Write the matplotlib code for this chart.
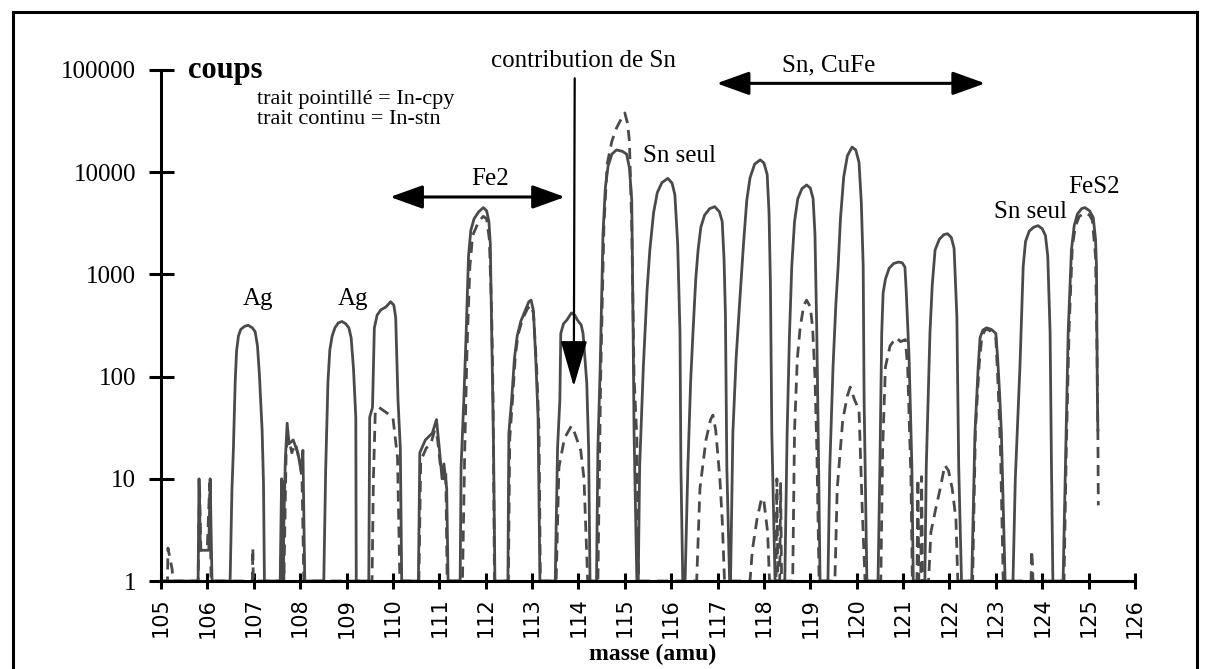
import matplotlib
matplotlib.use("Agg")
import matplotlib.pyplot as plt
from matplotlib import font_manager
from matplotlib.lines import Line2D

# trait continu = In-stn : (masse, coups), peak by peak
stn_peaks = [
    [(105.0, 1), (105.8, 1)],
    [(105.82, 10), (105.85, 2), (106.03, 2), (106.06, 10), (106.1, 1)],
    [(106.49, 1), (106.53, 8), (106.56, 19), (106.6, 90), (106.63, 180), (106.67, 250),
     (106.72, 290), (106.8, 310), (106.88, 318), (106.97, 300), (107.03, 275), (107.08, 200),
     (107.12, 108), (107.18, 30), (107.21, 9), (107.23, 1)],
    [(107.57, 1), (107.6, 10), (107.62, 1), (107.68, 15), (107.72, 35), (107.76, 22),
     (107.85, 24), (107.95, 18), (108.02, 12), (108.06, 19), (108.1, 1)],
    [(108.51, 1), (108.55, 12), (108.6, 90), (108.64, 182), (108.69, 250), (108.75, 300),
     (108.82, 335), (108.9, 346), (108.98, 330), (109.05, 300), (109.1, 240), (109.15, 120),
     (109.2, 40), (109.21, 1)],
    [(109.48, 1), (109.5, 40), (109.56, 50), (109.6, 300), (109.66, 400), (109.74, 450),
     (109.85, 480), (109.95, 540), (110.02, 500), (110.06, 380), (110.11, 59), (110.16, 20),
     (110.19, 1)],
    [(110.55, 1), (110.58, 18), (110.7, 24), (110.85, 28), (110.94, 38), (111.0, 20),
     (111.06, 10), (111.1, 14), (111.16, 8), (111.19, 1)],
    [(111.45, 1), (111.47, 13), (111.53, 60), (111.58, 270), (111.63, 1500), (111.68, 2700),
     (111.75, 3500), (111.85, 4100), (111.95, 4500), (112.02, 4200), (112.07, 3300),
     (112.1, 2000), (112.13, 270), (112.17, 20), (112.2, 1)],
    [(112.48, 1), (112.5, 28), (112.56, 59), (112.62, 150), (112.68, 250), (112.76, 350),
     (112.86, 450), (112.93, 540), (112.98, 560), (113.03, 440), (113.08, 150), (113.13, 40),
     (113.17, 1)],
    [(113.5, 1), (113.55, 20), (113.6, 59), (113.62, 265), (113.68, 330), (113.75, 357),
     (113.85, 420), (113.92, 400), (113.98, 357), (114.06, 320), (114.1, 265), (114.18, 87),
     (114.22, 20), (114.25, 1)],
    [(114.39, 1), (114.42, 20), (114.47, 125), (114.53, 2500), (114.58, 7000), (114.64, 11500),
     (114.72, 15000), (114.82, 16500), (114.95, 16000), (115.04, 15000), (115.1, 11000),
     (115.15, 5300), (115.18, 270), (115.2, 28), (115.26, 1)],
    [(115.29, 1), (115.32, 13), (115.4, 125), (115.48, 700), (115.54, 1730), (115.62, 4000),
     (115.7, 6300), (115.8, 7900), (115.93, 8700), (116.02, 7800), (116.08, 6000),
     (116.14, 2000), (116.19, 270), (116.21, 13), (116.25, 1)],
    [(116.3, 1), (116.36, 13), (116.42, 90), (116.47, 270), (116.53, 900), (116.58, 1730),
     (116.64, 2900), (116.72, 3800), (116.83, 4400), (116.94, 4600), (117.04, 4100),
     (117.1, 3300), (117.14, 1400), (117.17, 400), (117.2, 13), (117.26, 1)],
    [(117.28, 1), (117.33, 28), (117.4, 150), (117.48, 560), (117.56, 2000), (117.63, 5300),
     (117.7, 8800), (117.8, 12000), (117.92, 13200), (118.0, 12300), (118.07, 9500),
     (118.11, 4000), (118.14, 800), (118.17, 28), (118.24, 1)],
    [(118.45, 1), (118.5, 28), (118.55, 250), (118.6, 1200), (118.66, 3300), (118.73, 5500),
     (118.82, 6900), (118.92, 7500), (119.0, 7000), (119.06, 5500), (119.1, 2500),
     (119.14, 270), (119.17, 28), (119.21, 1)],
    [(119.38, 1), (119.42, 13), (119.49, 125), (119.55, 500), (119.6, 1200), (119.65, 3500),
     (119.72, 9000), (119.8, 14500), (119.9, 17600), (119.98, 16500), (120.05, 12500),
     (120.1, 5000), (120.14, 1200), (120.16, 59), (120.22, 1)],
    [(120.46, 1), (120.5, 13), (120.54, 270), (120.57, 660), (120.62, 900), (120.7, 1150),
     (120.8, 1280), (120.9, 1320), (120.98, 1300), (121.04, 1180), (121.07, 660),
     (121.13, 150), (121.19, 13), (121.22, 1)],
    [(121.47, 1), (121.5, 13), (121.58, 270), (121.63, 800), (121.69, 1730), (121.78, 2200),
     (121.88, 2450), (121.96, 2500), (122.04, 2300), (122.1, 1800), (122.16, 385),
     (122.2, 13), (122.26, 1)],
    [(122.48, 1), (122.55, 28), (122.62, 125), (122.66, 240), (122.72, 285), (122.8, 300),
     (122.9, 290), (123.0, 265), (123.04, 150), (123.08, 70), (123.12, 28), (123.2, 1)],
    [(123.37, 1), (123.42, 10), (123.52, 125), (123.59, 1200), (123.64, 2100), (123.72, 2650),
     (123.82, 2900), (123.91, 3000), (124.0, 2800), (124.07, 2400), (124.12, 1500),
     (124.17, 270), (124.2, 13), (124.23, 1)],
    [(124.45, 1), (124.5, 13), (124.56, 270), (124.63, 1730), (124.69, 3000), (124.76, 3900),
     (124.85, 4400), (124.92, 4500), (125.02, 4200), (125.1, 3600), (125.15, 2200),
     (125.17, 1200), (125.19, 60), (125.2, 30)],
]

# trait pointillé = In-cpy
cpy_peaks = [
    [(105.0, 1), (105.14, 1), (105.15, 2.1), (105.24, 1.3), (105.26, 1), (105.8, 1)],
    [(105.83, 9), (105.86, 2), (106.0, 2.2), (106.05, 9), (106.08, 1)],
    [(106.97, 1), (106.98, 2.1), (106.99, 1)],
    [(107.58, 1), (107.62, 10), (107.65, 1), (107.7, 20), (107.75, 25), (107.82, 18),
     (107.9, 22), (108.0, 14), (108.04, 10), (108.08, 1)],
    [(109.55, 1), (109.58, 10), (109.62, 45), (109.7, 50), (110.0, 40), (110.1, 16), (110.15, 1)],
    [(110.56, 1), (110.6, 15), (110.72, 20), (110.82, 22), (110.9, 30), (110.96, 25),
     (111.02, 14), (111.1, 10), (111.14, 12), (111.17, 1)],
    [(111.5, 1), (111.55, 20), (111.6, 200), (111.66, 1200), (111.72, 2400), (111.85, 3300),
     (111.95, 3700), (112.02, 3500), (112.08, 2200), (112.13, 400), (112.16, 60), (112.19, 1)],
    [(112.49, 1), (112.52, 25), (112.58, 60), (112.64, 160), (112.7, 260), (112.8, 370),
     (112.9, 460), (112.97, 500), (113.03, 420), (113.1, 120), (113.15, 30), (113.18, 1)],
    [(113.52, 1), (113.58, 13), (113.7, 25), (113.8, 30), (113.85, 33), (113.92, 28),
     (114.05, 19), (114.12, 10), (114.2, 1)],
    [(114.42, 1), (114.48, 100), (114.55, 3000), (114.62, 12000), (114.72, 20000),
     (114.82, 27000), (114.92, 33000), (115.0, 38000), (115.06, 30000), (115.1, 20000),
     (115.15, 3000), (115.2, 100), (115.26, 25), (115.3, 1)],
    [(116.55, 1), (116.62, 8), (116.75, 24), (116.85, 38), (116.9, 42), (116.96, 30),
     (117.05, 10), (117.1, 4), (117.15, 1)],
    [(117.7, 1), (117.75, 2), (117.85, 4), (117.95, 6.5), (118.0, 6), (118.08, 3), (118.12, 1)],
    [(118.26, 1), (118.28, 10), (118.3, 1), (118.34, 1), (118.36, 9), (118.38, 1)],
    [(118.62, 1), (118.66, 30), (118.72, 150), (118.78, 300), (118.86, 500), (118.92, 560),
     (119.0, 480), (119.05, 300), (119.1, 100), (119.14, 20), (119.19, 1)],
    [(119.53, 1), (119.58, 8), (119.7, 38), (119.8, 65), (119.86, 79), (119.95, 60),
     (120.05, 47), (120.12, 5), (120.18, 1)],
    [(120.52, 1), (120.56, 20), (120.62, 125), (120.72, 200), (120.85, 240), (120.95, 220),
     (121.05, 230), (121.1, 120), (121.17, 10), (121.2, 1)],
    [(121.3, 1), (121.32, 10), (121.34, 1), (121.38, 1), (121.4, 10.5), (121.42, 1)],
    [(121.55, 1), (121.6, 3), (121.7, 5), (121.8, 8), (121.9, 13.6), (121.98, 12),
     (122.06, 8), (122.14, 4), (122.18, 1)],
    [(122.5, 1), (122.56, 30), (122.64, 130), (122.7, 250), (122.78, 290), (122.86, 285),
     (123.0, 240), (123.05, 80), (123.1, 20), (123.16, 1)],
    [(123.76, 1), (123.77, 2), (123.79, 1.5), (123.8, 1)],
    [(124.47, 1), (124.52, 20), (124.58, 300), (124.65, 1900), (124.72, 3000), (124.8, 3700),
     (124.93, 4000), (125.02, 3800), (125.08, 3400), (125.15, 1500), (125.18, 200),
     (125.2, 30), (125.21, 5.5)],
]

x_ticks = list(range(105, 127))
y_ticks = [1, 10, 100, 1000, 10000, 100000]
y_labels = ["1", "10", "100", "1000", "10000", "100000"]

stn_x = [p[0] for peak in stn_peaks for p in peak]
stn_y = [p[1] for peak in stn_peaks for p in peak]
cpy_x = [p[0] for peak in cpy_peaks for p in peak]
cpy_y = [p[1] for peak in cpy_peaks for p in peak]

names = {f.name for f in font_manager.fontManager.ttflist}
if "Liberation Sans Narrow" in names:
    tick_font, tick_size = "Liberation Sans Narrow", 19
else:
    tick_font, tick_size = "DejaVu Sans", 15
serif = "Liberation Serif"

fig = plt.figure(figsize=(12.06, 6.69), dpi=100)
ax = fig.add_axes([0.1335, 0.1315, 0.8076, 0.7639])

trace = "#4a4a4a"
ax.plot(stn_x, stn_y, color=trace, lw=2.0, solid_joinstyle="round", clip_on=False)
ax.plot(cpy_x, cpy_y, color=trace, lw=2.0, dashes=(4, 2.5), clip_on=False)

ax.set_yscale("log")
ax.set_xlim(105, 126)
ax.set_ylim(1, 100000)
ax.minorticks_off()
ax.set_xticks(x_ticks)
ax.set_xticklabels([str(v) for v in x_ticks], rotation=90, family=tick_font, size=tick_size)
ax.set_yticks(y_ticks)
ax.set_yticklabels(y_labels, family=serif, size=18)
ax.tick_params(axis="y", direction="inout", length=18, width=2.2, pad=9)
ax.tick_params(axis="x", direction="inout", length=12, width=2.2, pad=6)
for side in ["top", "right"]:
    ax.spines[side].set_visible(False)
for side in ["left", "bottom"]:
    ax.spines[side].set_linewidth(2.2)

txt = dict(family=serif, size=18, clip_on=False)
ax.text(105.58, 83500, "coups", fontweight="bold", size=22, ha="left", va="baseline",
        family=serif)
ax.text(107.07, 46000, "trait pointillé = In-cpy", ha="left", va="baseline",
        family=serif, size=16)
ax.text(107.07, 29500, "trait continu = In-stn", ha="left", va="baseline",
        family=serif, size=16)
ax.text(107.09, 500, "Ag", ha="center", va="baseline", **txt)
ax.text(109.14, 500, "Ag", ha="center", va="baseline", **txt)
ax.text(112.09, 7500, "Fe2", ha="center", va="baseline", **txt)
ax.text(114.1, 107000, "contribution de Sn", ha="center", va="baseline", **txt)
ax.text(119.4, 96000, "Sn, CuFe", ha="center", va="baseline", **txt)
ax.text(115.39, 12600, "Sn seul", ha="left", va="baseline", **txt)
ax.text(122.96, 3560, "Sn seul", ha="left", va="baseline", **txt)
ax.text(124.56, 6300, "FeS2", ha="left", va="baseline", **txt)

double = dict(arrowstyle="<|-|>,head_length=1.0,head_width=0.36", color="black",
              lw=2.2, mutation_scale=20, shrinkA=0, shrinkB=0)
ax.annotate("", xy=(113.71, 5720), xytext=(109.94, 5720), arrowprops=double,
            annotation_clip=False)
ax.annotate("", xy=(122.77, 74000), xytext=(116.98, 74000), arrowprops=double,
            annotation_clip=False)
ax.annotate("", xy=(113.9, 80), xytext=(113.92, 83000),
            arrowprops=dict(arrowstyle="-|>,head_length=1.45,head_width=0.42",
                            color="black", lw=1.6, mutation_scale=20,
                            shrinkA=0, shrinkB=0),
            annotation_clip=False)

fig.text(0.541, 0.014, "masse (amu)", ha="center", va="baseline", family=serif,
         size=17, fontweight="bold")

# cadre autour de la figure
left, right, top = 13 / 1206, 1197 / 1206, 1 - 12 / 669
for xs, ys in [([left, right], [top, top]), ([left, left], [top, 0]),
               ([right, right], [top, 0])]:
    fig.add_artist(Line2D(xs, ys, transform=fig.transFigure, color="black", lw=2.2))

fig.savefig("out.png", dpi=100)
plt.close(fig)
